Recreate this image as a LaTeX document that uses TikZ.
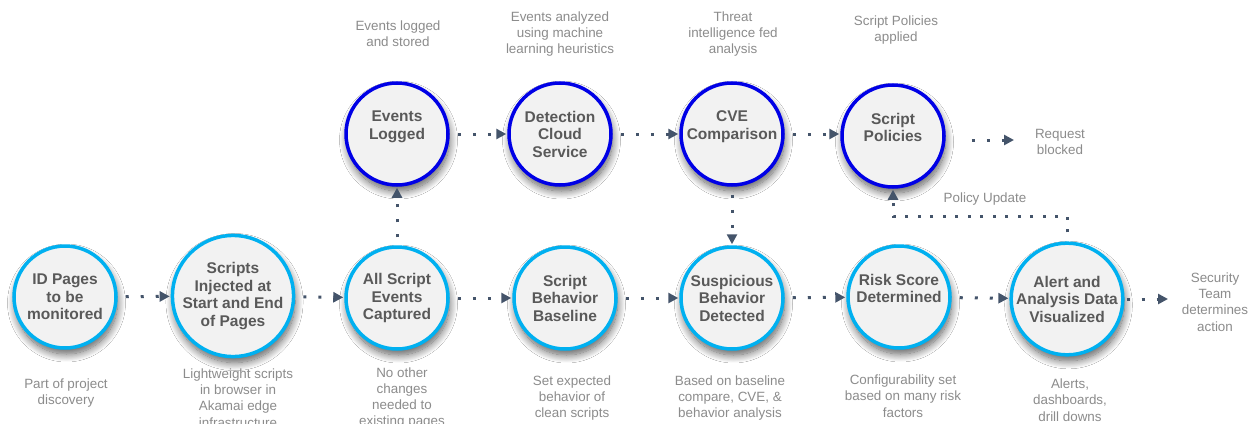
\documentclass[tikz,border=0pt]{standalone}
\usepackage{fontspec}
\setmainfont{Liberation Sans}
\usetikzlibrary{arrows.meta,shadows.blur}

\definecolor{ringcyan}{HTML}{00B0F0}
\definecolor{ringblue}{HTML}{0000E6}
\definecolor{discfill}{HTML}{F2F2F2}
\definecolor{headtext}{HTML}{595959}
\definecolor{notetext}{HTML}{8C8C8C}
\definecolor{flow}{HTML}{44546A}

% an empty trailing line keeps two-line titles aligned with three-line ones
\newcommand{\padline}{\\\mbox{}}

\tikzset{
  stage/.style={circle, minimum size=102pt, inner sep=0pt, line width=3.5pt,
    fill=discfill, text=headtext, align=center,
    font=\bfseries\fontsize{15.5}{17.5}\selectfont,
    blur shadow={shadow xshift=1.5pt, shadow yshift=-6pt,
      shadow blur radius=8pt, shadow opacity=65, shadow blur steps=14}},
  edgestage/.style={stage, draw=ringcyan},
  cloudstage/.style={stage, draw=ringblue},
  note/.style={font=\fontsize{13.4}{16.3}\selectfont, text=notetext,
    align=center, inner sep=0pt},
  flowline/.style={draw=flow, line width=3pt, dash pattern=on 3pt off 12pt,
    -{Triangle[length=10pt,width=10pt]}, shorten <=8pt, shorten >=1pt},
}

\begin{document}
\begin{tikzpicture}[x=1pt,y=-1pt]
\clip (0,0) rectangle (1258,423);
\fill[white] (0,0) rectangle (1258,423);

% bottom row: browser-side stages
\node[edgestage] (id)    at (65,297)   {ID Pages\\to be\\monitored};
\node[edgestage] (inj)   at (233,296)  {Scripts\\Injected at\\Start and End\\of Pages};
\node[edgestage] (cap)   at (397,298)  {All Script\\Events\\Captured};
\node[edgestage] (base)  at (565,298)  {Script\\Behavior\\Baseline};
\node[edgestage] (susp)  at (732,298)  {Suspicious\\Behavior\\Detected};
\node[edgestage] (risk)  at (899,297)  {Risk Score\\Determined\padline};
\node[edgestage] (alert) at (1067,299) {Alert and\\Analysis Data\\Visualized};

% top row: cloud-side stages
\node[cloudstage] (logged) at (397,134) {Events\\Logged\padline};
\node[cloudstage] (cloud)  at (560,134) {Detection\\Cloud\\Service};
\node[cloudstage] (cve)    at (732,134) {CVE\\Comparison\padline};
\node[cloudstage] (pol)    at (893,136) {Script\\Policies\padline};

% notes under the bottom row
\node[note] (nid)    at (66,393)   {Part of project\\discovery};
\node[note] (ninj)   at (238,398)  {Lightweight scripts\\in browser in\\Akamai edge\\infrastructure};
\node[note] (ncap)   at (402,398)  {No other\\changes\\needed to\\existing pages};
\node[note] (nbase)  at (572,398)  {Set expected\\behavior of\\clean scripts};
\node[note] (nsusp)  at (730,398)  {Based on baseline\\compare, CVE, \&\\behavior analysis};
\node[note] (nrisk)  at (903,396)  {Configurability set\\based on many risk\\factors};
\node[note] (nalert) at (1070,400) {Alerts,\\dashboards,\\drill downs};

% notes above the top row
\node[note] (nlogged) at (398,34)  {Events logged\\and stored};
\node[note] (ncloud)  at (560,34)  {Events analyzed\\using machine\\learning heuristics};
\node[note] (ncve)    at (733,34)  {Threat\\intelligence fed\\analysis};
\node[note] (npol)    at (896,30)  {Script Policies\\applied};

% outcomes
\node[note] (blocked)  at (1060,142) {Request\\blocked};
\node[note] (security) at (1215,302) {Security\\Team\\determines\\action};
\node[note] (update)   at (985,199)  {Policy Update};

\coordinate (blockedtip)  at (1015,140);
\coordinate (securitytip) at (1169,299);

% bottom row flow
\draw[flowline] (id) -- (inj);
\draw[flowline] (inj) -- (cap);
\draw[flowline] (cap) -- (base);
\draw[flowline] (base) -- (susp);
\draw[flowline] (susp) -- (risk);
\draw[flowline] (risk) -- (alert);
\draw[flowline, shorten <=2pt] (alert.east) -- (securitytip);

% top row flow
\draw[flowline] (cap) -- (logged);
\draw[flowline] (logged) -- (cloud);
\draw[flowline] (cloud) -- (cve);
\draw[flowline] (cve.east) -- (cve.east -| pol.west);
\draw[flowline] (cve) -- (susp);
\draw[flowline, shorten <=26pt] (pol.east |- blockedtip) -- (blockedtip);

% policy feedback loop
\draw[flowline, dash pattern=on 3pt off 9.5pt, shorten <=9pt]
  (alert.north) -- ++(0,-25) -| (pol.south);
\end{tikzpicture}
\end{document}
